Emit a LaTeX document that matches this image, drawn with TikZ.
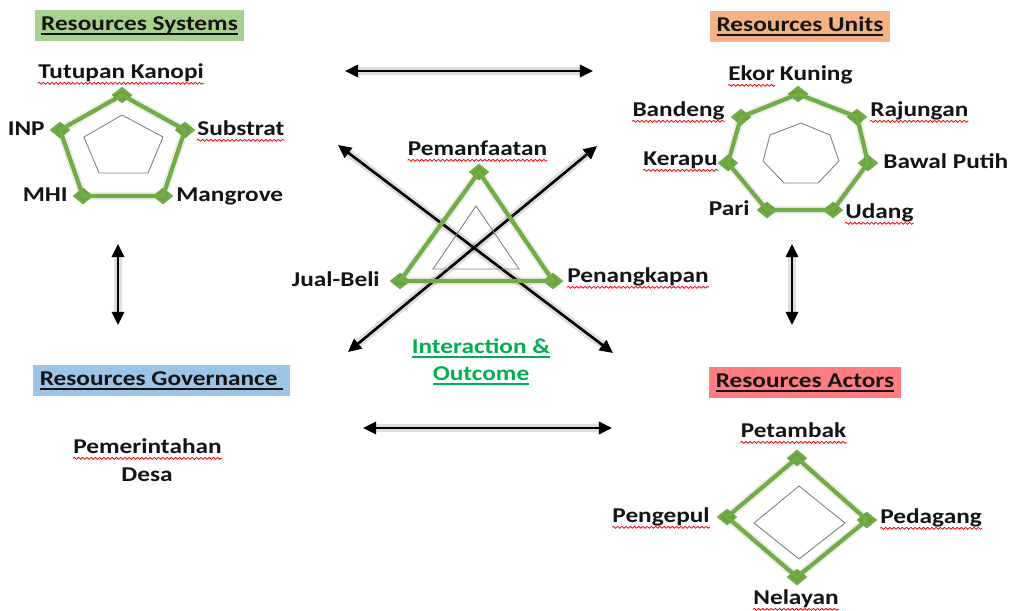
\documentclass[tikz,border=0pt]{standalone}
\usepackage{fontspec}
\setmainfont{Carlito}[FakeStretch=1.2]
\usetikzlibrary{arrows.meta,shapes.geometric,decorations.pathmorphing}
\definecolor{leafgreen}{RGB}{112, 173, 71}
\definecolor{sage}{RGB}{169, 209, 142}
\definecolor{peach}{RGB}{244, 177, 131}
\definecolor{skyblue}{RGB}{157, 195, 230}
\definecolor{salmon}{RGB}{255, 124, 128}
\definecolor{kellygreen}{RGB}{0, 176, 80}
\definecolor{ink}{RGB}{20, 20, 20}
\newcommand{\ulbar}[1]{\setbox0\hbox{#1}\rlap{\rule[-2.6pt]{\wd0}{0.9pt}}\box0}
\tikzset{
    itemlabel/.style={font=\bfseries\fontsize{12}{14.5}\selectfont, text=ink, inner sep=0pt},
    header/.style={itemlabel, inner xsep=0.13cm, minimum height=0.62cm},
    marker/.style={diamond, fill=leafgreen, inner sep=0pt, minimum width=0.42cm, minimum height=0.34cm},
    glow/.style={preaction={draw=black, draw opacity=#1, line width=4.6pt}},
    radar/.style={draw=leafgreen, line width=2.4pt, line join=round, glow=0.07},
    innerring/.style={draw=gray, line width=0.5pt},
    link/.style={draw=black, line width=1.5pt, >={Triangle[length=7.5pt,width=7pt]}, <->, glow=0.13},
    wave/.style={draw=red, line width=0.45pt, decorate, decoration={snake, amplitude=0.55pt, segment length=2.4pt}},
    spelled/.style={append after command={([yshift=-3pt]\tikzlastnode.base west) edge[wave] ([yshift=-3pt]\tikzlastnode.base east)}}
}

\begin{document}
\begin{tikzpicture}[x=0.02cm, y=-0.02cm]
            \useasboundingbox (0,0) rectangle (1013,610);
            \node[header, fill=sage]    (systems)    at (139.5, 25.5) {\ulbar{Resources Systems}};
            \node[header, fill=peach]   (units)      at (800.0, 26.0) {\ulbar{Resources Units}};
            \node[header, fill=skyblue] (governance) at (161.5,380.5) {\ulbar{Resources Governance\ }};
            \node[header, fill=salmon]  (actors)     at (805.0,382.5) {\ulbar{Resources Actors}};

            \coordinate (topL)   at (345, 71);  \coordinate (topR)   at (593, 71);
            \coordinate (botL)   at (363,428);  \coordinate (botR)   at (612,428);
            \coordinate (leftT)  at (118,244);  \coordinate (leftB)  at (118,325);
            \coordinate (rightT) at (792,244);  \coordinate (rightB) at (792,325);
            \coordinate (diagNW) at (338,145);  \coordinate (diagSE) at (613,353);
            \coordinate (diagSW) at (348,352);  \coordinate (diagNE) at (597,146);
            \draw[link] (topL)   -- (topR);
            \draw[link] (botL)   -- (botR);
            \draw[link] (leftT)  -- (leftB);
            \draw[link] (rightT) -- (rightB);
            \draw[link] (diagNW) -- (diagSE);
            \draw[link] (diagSW) -- (diagNE);

            \draw[innerring] (122,115) -- (163,137) -- (148,173) -- ( 99,173) -- ( 84,137) -- cycle;
            \node[marker] (s1) at (122, 95) {};
            \node[marker] (s2) at (185,130) {};
            \node[marker] (s3) at (163,196) {};
            \node[marker] (s4) at ( 83,196) {};
            \node[marker] (s5) at ( 60,130) {};
            \draw[radar] (s1.center) -- (s2.center) -- (s3.center) -- (s4.center) -- (s5.center) -- cycle;

            \draw[innerring] (801,123) -- (830,135) -- (839,161) -- (818,183) -- (784,183) -- (763,161) -- (770,135) -- cycle;
            \node[marker] (u1) at (798, 94) {};
            \node[marker] (u2) at (857,117) {};
            \node[marker] (u3) at (868,163) {};
            \node[marker] (u4) at (833,210) {};
            \node[marker] (u5) at (767,210) {};
            \node[marker] (u6) at (728,163) {};
            \node[marker] (u7) at (741,117) {};
            \draw[radar] (u1.center) -- (u2.center) -- (u3.center) -- (u4.center) -- (u5.center) -- (u6.center) -- (u7.center) -- cycle;

            \draw[innerring] (476,206) -- (519,269) -- (433,269) -- cycle;
            \node[marker] (o1) at (479,172) {};
            \node[marker] (o2) at (553,281) {};
            \node[marker] (o3) at (400,281) {};
            \draw[radar] (o1.center) -- (o2.center) -- (o3.center) -- cycle;

            \draw[innerring] (799,486) -- (845,523) -- (799,559) -- (754,523) -- cycle;
            \node[marker] (a1) at (797,458) {};
            \node[marker] (a2) at (867,520) {};
            \node[marker] (a3) at (797,577) {};
            \node[marker] (a4) at (727,517) {};
            \draw[radar] (a1.center) -- (a2.center) -- (a3.center) -- (a4.center) -- cycle;

            \node[itemlabel, spelled, anchor=base]      (kanopi)      at (121, 78) {Tutupan Kanopi};
            \node[itemlabel, spelled, anchor=base west] (substrat)    at (197,135) {Substrat};
            \node[itemlabel, anchor=base east]          (inp)         at ( 45,135) {INP};
            \node[itemlabel, anchor=base east]          (mhi)         at ( 68,201) {MHI};
            \node[itemlabel, anchor=base west]          (mangrove)    at (176,201) {Mangrove};

            \node[itemlabel, spelled, anchor=base west] (ekor)        at (728, 80) {Ekor};
            \node[itemlabel, anchor=base west]          (kuning)      at ([xshift=0.26em]ekor.base east) {Kuning};
            \node[itemlabel, spelled, anchor=base west] (rajungan)    at (870,116) {Rajungan};
            \node[itemlabel, anchor=base west]          (bawal)       at (883,168) {Bawal Putih};
            \node[itemlabel, spelled, anchor=base west] (udang)       at (845,218) {Udang};
            \node[itemlabel, anchor=base east]          (pari)        at (750,215) {Pari};
            \node[itemlabel, spelled, anchor=base east] (kerapu)      at (718,165) {Kerapu};
            \node[itemlabel, spelled, anchor=base east] (bandeng)     at (725,116) {Bandeng};

            \node[itemlabel, spelled, anchor=base]      (pemanfaatan) at (477.5,155) {Pemanfaatan};
            \node[itemlabel, anchor=base east]          (jualbeli)    at (380,286) {Jual-Beli};
            \node[itemlabel, spelled, anchor=base west] (penangkapan) at (567,282) {Penangkapan};
            \node[itemlabel, anchor=base, text=kellygreen] (interaction) at (481,353) {\ulbar{Interaction \&}};
            \node[itemlabel, anchor=base, text=kellygreen] (outcome)     at (481,380) {\ulbar{Outcome}};

            \node[itemlabel, spelled, anchor=base]      (petambak)    at (793.5,437) {Petambak};
            \node[itemlabel, spelled, anchor=base west] (pedagang)    at (880,523) {Pedagang};
            \node[itemlabel, spelled, anchor=base east] (pengepul)    at (710,522) {Pengepul};
            \node[itemlabel, spelled, anchor=base]      (nelayan)     at (796,604) {Nelayan};

            \node[itemlabel, spelled, anchor=base]      (pemerintahan) at (147.5,453) {Pemerintahan};
            \node[itemlabel, anchor=base]               (desa)         at (147.0,481) {Desa};
            \end{tikzpicture}
\end{document}
